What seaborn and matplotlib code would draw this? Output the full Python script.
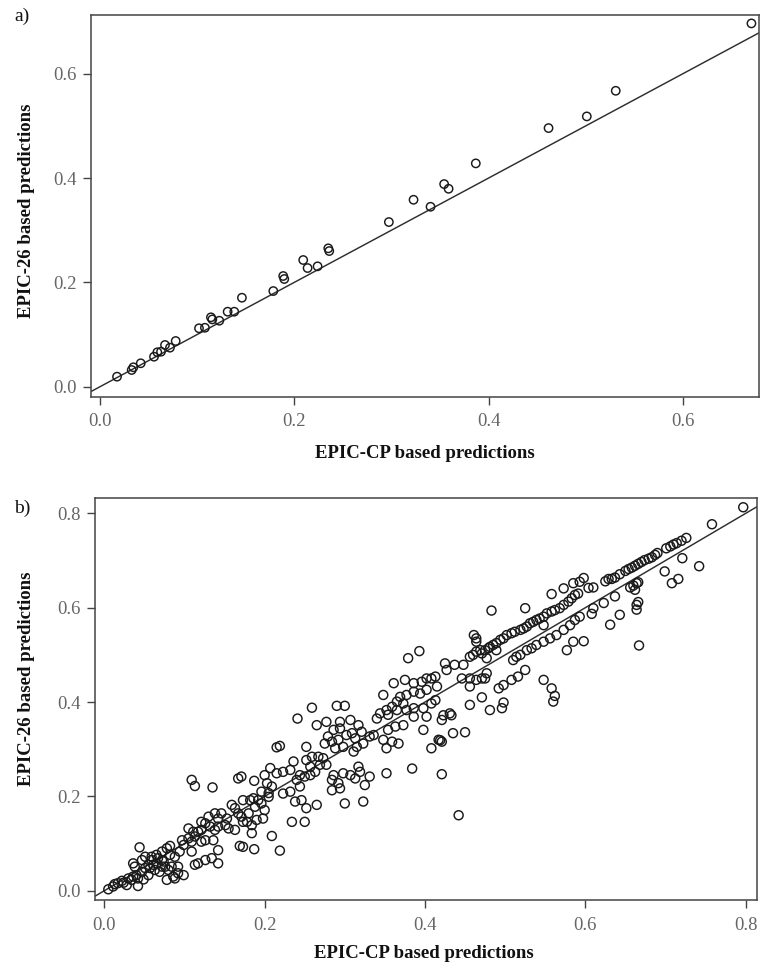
import matplotlib
matplotlib.use("Agg")
import matplotlib.pyplot as plt
import seaborn as sns
import pandas as pd

# ---------------- data: panel a ----------------
a_x = [0.0175, 0.0326, 0.0343, 0.0419, 0.0556, 0.0590, 0.0628, 0.0669, 0.0720, 0.0779,
       0.1019, 0.1080, 0.1142, 0.1156, 0.1228, 0.1314, 0.1382, 0.1461, 0.1784, 0.1886,
       0.1897, 0.2092, 0.2137, 0.2240, 0.2350, 0.2360, 0.2974, 0.3228, 0.3403, 0.3543,
       0.3589, 0.3869, 0.4618, 0.5012, 0.5310, 0.6707]
a_y = [0.0192, 0.0320, 0.0372, 0.0449, 0.0575, 0.0660, 0.0671, 0.0800, 0.0748, 0.0876,
       0.1120, 0.1130, 0.1330, 0.1290, 0.1265, 0.1438, 0.1438, 0.1706, 0.1834, 0.2122,
       0.2065, 0.2429, 0.2275, 0.2308, 0.2653, 0.2601, 0.3157, 0.3584, 0.3450, 0.3885,
       0.3795, 0.4282, 0.4959, 0.5183, 0.5674, 0.6966]

# ---------------- data: panel b ----------------
b_x = [
    # low range
    0.005, 0.011, 0.017, 0.022, 0.028, 0.030, 0.036, 0.042, 0.040, 0.047,
    0.051, 0.055, 0.059, 0.065, 0.072, 0.076, 0.080, 0.086, 0.092, 0.099,
    0.088, 0.094, 0.099, 0.105, 0.109, 0.113, 0.117, 0.121, 0.126, 0.132,
    0.138, 0.142, 0.146, 0.153, 0.159, 0.163, 0.173, 0.182, 0.186, 0.192,
    0.196, 0.200, 0.207, 0.167, 0.171, 0.187, 0.109, 0.113, 0.135, 0.044,
    0.036, 0.038, 0.078, 0.082, 0.113, 0.117, 0.126, 0.134, 0.142, 0.142,
    0.121, 0.136, 0.126, 0.138, 0.155, 0.163, 0.173, 0.178, 0.184, 0.190,
    0.198, 0.200, 0.184, 0.169, 0.173, 0.187, 0.209, 0.105, 0.111, 0.074,
    0.063, 0.055, 0.049, 0.078, 0.088, 0.065, 0.059, 0.072, 0.082, 0.097,
    0.109, 0.092, 0.084, 0.069, 0.047, 0.051, 0.057, 0.013, 0.024, 0.034,
    0.042, 0.061, 0.067, 0.072, 0.121, 0.130, 0.142, 0.151, 0.167, 0.171,
    0.180, 0.188, 0.196, 0.205, 0.209, 0.203, 0.205,
    # middle range
    0.361, 0.375, 0.386, 0.396, 0.402, 0.408, 0.413, 0.415, 0.402, 0.394,
    0.386, 0.377, 0.369, 0.348, 0.365, 0.373, 0.359, 0.352, 0.344, 0.340,
    0.354, 0.365, 0.377, 0.386, 0.398, 0.408, 0.413, 0.402, 0.386, 0.373,
    0.363, 0.354, 0.348, 0.359, 0.367, 0.352, 0.398, 0.408, 0.417, 0.384,
    0.352, 0.259, 0.290, 0.300, 0.241, 0.265, 0.277, 0.294, 0.294, 0.307,
    0.317, 0.309, 0.321, 0.331, 0.336, 0.313, 0.302, 0.286, 0.279, 0.275,
    0.284, 0.292, 0.298, 0.288, 0.315, 0.323, 0.311, 0.252, 0.259, 0.267,
    0.273, 0.252, 0.257, 0.269, 0.277, 0.236, 0.219, 0.215, 0.232, 0.223,
    0.215, 0.244, 0.240, 0.250, 0.257, 0.263, 0.286, 0.298, 0.307, 0.317,
    0.319, 0.284, 0.292, 0.284, 0.294, 0.313, 0.325, 0.331, 0.300, 0.323,
    0.238, 0.246, 0.265, 0.252, 0.234, 0.250, 0.223, 0.232, 0.244, 0.219,
    # upper-middle range
    0.379, 0.393, 0.425, 0.437, 0.448, 0.427, 0.456, 0.460, 0.464, 0.469,
    0.475, 0.479, 0.485, 0.489, 0.494, 0.498, 0.502, 0.508, 0.512, 0.519,
    0.523, 0.527, 0.531, 0.535, 0.539, 0.543, 0.548, 0.552, 0.558, 0.562,
    0.568, 0.573, 0.579, 0.583, 0.587, 0.591, 0.461, 0.464, 0.464, 0.483,
    0.525, 0.558, 0.573, 0.585, 0.593, 0.481, 0.471, 0.489, 0.477, 0.446,
    0.456, 0.464, 0.471, 0.477, 0.475, 0.456, 0.492, 0.498, 0.508, 0.516,
    0.525, 0.510, 0.514, 0.519, 0.527, 0.533, 0.539, 0.548, 0.556, 0.564,
    0.573, 0.581, 0.587, 0.593, 0.548, 0.577, 0.585, 0.548, 0.558, 0.562,
    0.560, 0.471, 0.456, 0.481, 0.498, 0.496, 0.423, 0.433, 0.431, 0.421,
    0.419, 0.421, 0.435, 0.450, 0.421, 0.442,
    # high range
    0.598, 0.604, 0.610, 0.625, 0.629, 0.633, 0.637, 0.643, 0.650, 0.654,
    0.658, 0.662, 0.666, 0.670, 0.674, 0.679, 0.683, 0.687, 0.690, 0.701,
    0.706, 0.710, 0.714, 0.720, 0.726, 0.758, 0.797, 0.598, 0.608, 0.610,
    0.623, 0.637, 0.643, 0.631, 0.656, 0.660, 0.664, 0.666, 0.662, 0.664,
    0.666, 0.664, 0.667, 0.699, 0.708, 0.716, 0.721, 0.742,
]
b_y = [
    # low range
    0.003, 0.009, 0.016, 0.021, 0.012, 0.026, 0.030, 0.010, 0.033, 0.040,
    0.048, 0.055, 0.065, 0.058, 0.065, 0.051, 0.044, 0.030, 0.037, 0.033,
    0.072, 0.083, 0.097, 0.111, 0.104, 0.115, 0.125, 0.146, 0.143, 0.136,
    0.129, 0.153, 0.164, 0.153, 0.182, 0.175, 0.192, 0.192, 0.196, 0.192,
    0.210, 0.245, 0.260, 0.238, 0.242, 0.233, 0.235, 0.222, 0.219, 0.092,
    0.058, 0.051, 0.090, 0.076, 0.055, 0.058, 0.065, 0.069, 0.058, 0.086,
    0.104, 0.107, 0.107, 0.164, 0.132, 0.129, 0.146, 0.146, 0.139, 0.150,
    0.153, 0.171, 0.122, 0.095, 0.093, 0.088, 0.116, 0.132, 0.125, 0.062,
    0.044, 0.033, 0.024, 0.023, 0.026, 0.076, 0.072, 0.083, 0.095, 0.107,
    0.083, 0.051, 0.051, 0.040, 0.065, 0.072, 0.048, 0.014, 0.017, 0.023,
    0.026, 0.055, 0.069, 0.051, 0.129, 0.157, 0.136, 0.139, 0.164, 0.157,
    0.164, 0.178, 0.185, 0.199, 0.221, 0.228, 0.207,
    # middle range
    0.440, 0.447, 0.440, 0.443, 0.450, 0.450, 0.454, 0.433, 0.426, 0.418,
    0.422, 0.415, 0.411, 0.415, 0.401, 0.397, 0.390, 0.383, 0.376, 0.365,
    0.373, 0.383, 0.383, 0.387, 0.387, 0.397, 0.404, 0.369, 0.369, 0.351,
    0.348, 0.341, 0.320, 0.316, 0.312, 0.302, 0.341, 0.302, 0.320, 0.259,
    0.249, 0.388, 0.392, 0.392, 0.365, 0.351, 0.358, 0.358, 0.344, 0.362,
    0.351, 0.334, 0.337, 0.327, 0.330, 0.323, 0.330, 0.341, 0.327, 0.312,
    0.316, 0.320, 0.305, 0.302, 0.305, 0.312, 0.295, 0.305, 0.284, 0.284,
    0.281, 0.277, 0.263, 0.267, 0.267, 0.274, 0.307, 0.304, 0.256, 0.252,
    0.249, 0.245, 0.235, 0.242, 0.245, 0.252, 0.245, 0.249, 0.245, 0.263,
    0.252, 0.235, 0.228, 0.213, 0.217, 0.238, 0.224, 0.242, 0.185, 0.189,
    0.189, 0.192, 0.182, 0.175, 0.146, 0.146, 0.206, 0.210, 0.221, 0.085,
    # upper-middle range
    0.493, 0.508, 0.482, 0.479, 0.479, 0.468, 0.496, 0.500, 0.507, 0.510,
    0.510, 0.514, 0.521, 0.525, 0.532, 0.535, 0.542, 0.546, 0.549, 0.553,
    0.556, 0.560, 0.567, 0.570, 0.574, 0.577, 0.581, 0.588, 0.592, 0.595,
    0.599, 0.606, 0.613, 0.620, 0.627, 0.630, 0.542, 0.535, 0.528, 0.594,
    0.599, 0.629, 0.641, 0.652, 0.655, 0.517, 0.503, 0.510, 0.493, 0.450,
    0.450, 0.447, 0.450, 0.461, 0.450, 0.433, 0.429, 0.436, 0.447, 0.454,
    0.468, 0.489, 0.496, 0.500, 0.510, 0.514, 0.521, 0.528, 0.535, 0.542,
    0.553, 0.563, 0.574, 0.581, 0.563, 0.510, 0.528, 0.447, 0.429, 0.413,
    0.401, 0.410, 0.394, 0.383, 0.399, 0.387, 0.372, 0.372, 0.376, 0.362,
    0.319, 0.316, 0.334, 0.336, 0.247, 0.160,
    # high range
    0.663, 0.642, 0.643, 0.656, 0.661, 0.661, 0.664, 0.671, 0.678, 0.682,
    0.685, 0.689, 0.693, 0.697, 0.701, 0.704, 0.707, 0.712, 0.716, 0.726,
    0.730, 0.734, 0.737, 0.742, 0.748, 0.777, 0.813, 0.529, 0.587, 0.599,
    0.610, 0.624, 0.585, 0.564, 0.643, 0.647, 0.652, 0.654, 0.638, 0.606,
    0.612, 0.596, 0.520, 0.677, 0.652, 0.661, 0.705, 0.688,
]

a_ticks = [0.0, 0.2, 0.4, 0.6]
b_ticks = [0.0, 0.2, 0.4, 0.6, 0.8]
x_label = "EPIC-CP based predictions"
y_label = "EPIC-26 based predictions"
panel_tags = ["a)", "b)"]

# ---------------- style ----------------
sns.set_style("white")
plt.rcParams["font.family"] = ["Liberation Serif", "DejaVu Serif"]
plt.rcParams["axes.edgecolor"] = "#444444"
plt.rcParams["axes.linewidth"] = 1.1

fig = plt.figure(figsize=(7.6, 9.65), dpi=100)

W, H = 760.0, 965.0
def px_axes(l, t, r, b):
    return fig.add_axes([l / W, 1 - b / H, (r - l) / W, (b - t) / H])

ax_a = px_axes(91, 14.7, 759, 396.7)
ax_b = px_axes(95, 498.3, 756.7, 900)

df_a = pd.DataFrame({"x": a_x, "y": a_y})
df_b = pd.DataFrame({"x": b_x, "y": b_y})

TICK_FS = 13.5
LAB_FS = 13.5

def style(ax, ticks, xlim, ylim, xl_coords, yl_coords):
    ax.set_xlim(*xlim)
    ax.set_ylim(*ylim)
    ax.set_xticks(ticks)
    ax.set_yticks(ticks)
    ax.set_xticklabels([f"{t:.1f}" for t in ticks])
    ax.set_yticklabels([f"{t:.1f}" for t in ticks])
    ax.tick_params(axis="both", direction="out", length=6, width=1.0,
                   color="#444444", labelcolor="#666666", labelsize=TICK_FS,
                   left=True, bottom=True)
    ax.tick_params(axis="x", pad=6)
    ax.tick_params(axis="y", pad=4)
    for s in ax.spines.values():
        s.set_visible(True)
        s.set_color("#444444")
        s.set_linewidth(1.1)
    ax.set_xlabel(x_label, fontsize=LAB_FS, fontweight="bold", color="#111111")
    ax.set_ylabel(y_label, fontsize=LAB_FS, fontweight="bold", color="#111111")
    ax.xaxis.set_label_coords(*xl_coords)
    ax.yaxis.set_label_coords(*yl_coords)

for ax, df, s in [(ax_a, df_a, 36), (ax_b, df_b, 42)]:
    sns.scatterplot(data=df, x="x", y="y", ax=ax, marker="o", s=s,
                    facecolor="none", edgecolor="#1a1a1a", linewidth=1.05,
                    legend=False, zorder=3)
    ax.axline((0, 0), slope=1, color="#2e2e2e", linewidth=1.05, zorder=2)

style(ax_a, a_ticks, (-0.0093, 0.6785), (-0.0192, 0.7133), (0.5, -0.126), (-0.084, 0.486))
style(ax_b, b_ticks, (-0.0116, 0.8138), (-0.0197, 0.832), (0.497, -0.111), (-0.091, 0.55))

fig.text(14 / W, 1 - 16 / H, panel_tags[0], fontsize=14, ha="left", va="center", color="#111111")
fig.text(14 / W, 1 - 508 / H, panel_tags[1], fontsize=14, ha="left", va="center", color="#111111")

fig.savefig("out.png", dpi=100)
